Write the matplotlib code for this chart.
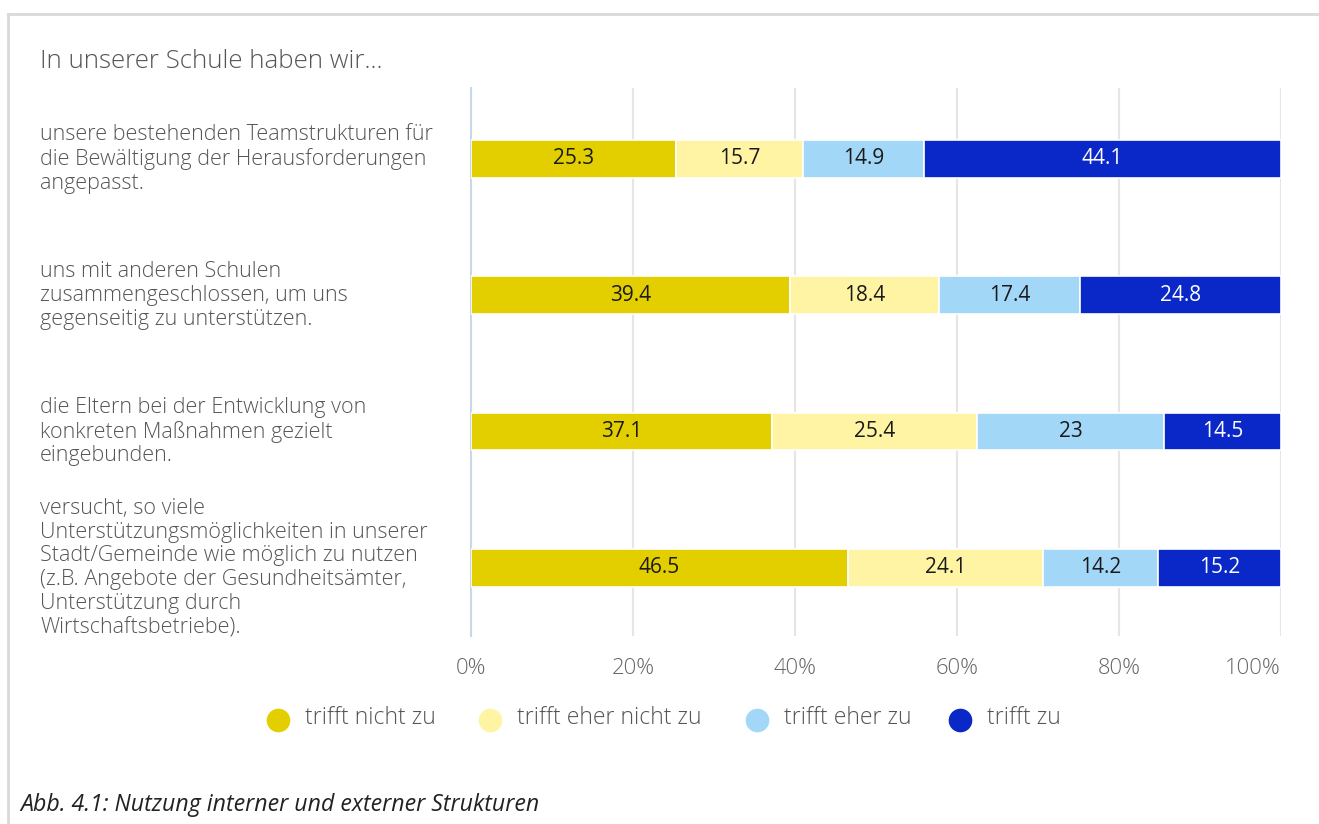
import matplotlib
matplotlib.use("Agg")
import matplotlib.pyplot as plt
from matplotlib.lines import Line2D
import matplotlib.transforms as mtransforms

plt.rcParams['font.family'] = ['Open Sans', 'DejaVu Sans']

categories = [
    "unsere bestehenden Teamstrukturen für\ndie Bewältigung der Herausforderungen\nangepasst.",
    "uns mit anderen Schulen\nzusammengeschlossen, um uns\ngegenseitig zu unterstützen.",
    "die Eltern bei der Entwicklung von\nkonkreten Maßnahmen gezielt\neingebunden.",
    "versucht, so viele\nUnterstützungsmöglichkeiten in unserer\nStadt/Gemeinde wie möglich zu nutzen\n(z.B. Angebote der Gesundheitsämter,\nUnterstützung durch\nWirtschaftsbetriebe).",
]
series_names = ["trifft nicht zu", "trifft eher nicht zu", "trifft eher zu", "trifft zu"]
trifft_nicht_zu = [25.3, 39.4, 37.1, 46.5]
trifft_eher_nicht_zu = [15.7, 18.4, 25.4, 24.1]
trifft_eher_zu = [14.9, 17.4, 23, 14.2]
trifft_zu = [44.1, 24.8, 14.5, 15.2]
value_labels = [
    ["25.3", "39.4", "37.1", "46.5"],
    ["15.7", "18.4", "25.4", "24.1"],
    ["14.9", "17.4", "23", "14.2"],
    ["44.1", "24.8", "14.5", "15.2"],
]
xticks = [0, 20, 40, 60, 80, 100]
xtick_labels = ["0%", "20%", "40%", "60%", "80%", "100%"]
title = "In unserer Schule haben wir..."
caption = "Abb. 4.1: Nutzung interner und externer Strukturen"

colors = ["#e3cf00", "#fff4a3", "#a3d7f7", "#0a28c8"]
text_colors = ["#1a1a1a", "#1a1a1a", "#1a1a1a", "#ffffff"]
LW = "light"

W, H = 1319, 824
fig = plt.figure(figsize=(W / 100, H / 100), dpi=100)
fig.patch.set_facecolor("white")

ax = fig.add_axes([471 / W, 1 - 636 / H, 810 / W, (636 - 88) / H])

series = [trifft_nicht_zu, trifft_eher_nicht_zu, trifft_eher_zu, trifft_zu]
totals = [sum(s[i] for s in series) for i in range(len(categories))]
ypos = list(range(len(categories)))
lefts = [0.0] * len(categories)
for k, s in enumerate(series):
    widths = [s[i] / totals[i] * 100 for i in range(len(categories))]
    bars = ax.barh(ypos, widths, left=lefts, height=0.275, color=colors[k],
                   edgecolor="white", linewidth=1.2, zorder=3)
    for i, b in enumerate(bars):
        ax.text(lefts[i] + widths[i] / 2, ypos[i], value_labels[k][i],
                ha="center", va="center", fontsize=15, color=text_colors[k], zorder=4)
    lefts = [lefts[i] + widths[i] for i in range(len(categories))]

ax.set_xlim(0, 100)
ax.set_ylim(3.5, -0.52)
ax.set_xticks(xticks)
ax.set_xticklabels(xtick_labels, fontsize=15.8, color="#666666", fontweight=LW)
ax.get_xticklabels()[-1].set_horizontalalignment("right")
ax.tick_params(axis="x", length=0, pad=16)
ax.set_yticks([])
ax.grid(axis="x", color="#e6e6e6", linewidth=1.5, zorder=0)
for sp in ["top", "right", "bottom"]:
    ax.spines[sp].set_visible(False)
ax.spines["left"].set_color("#ccd6eb")
ax.spines["left"].set_linewidth(1.5)

trans = mtransforms.blended_transform_factory(fig.transFigure, ax.transData)
for i, c in enumerate(categories):
    fig.text(40 / W, ypos[i], c, transform=trans, ha="left", va="center",
             fontsize=15.5, color="#555555", linespacing=1.18, fontweight=LW)

fig.text(40 / W, 1 - 61 / H, title, ha="left", va="center", fontsize=18.6,
         color="#555555", fontweight=LW)

# legend
leg_x = [278, 490, 757, 960]
for k in range(4):
    fig.add_artist(Line2D([leg_x[k] / W], [1 - 720 / H], marker="o", linestyle="none",
                          markersize=16, markerfacecolor=colors[k],
                          markeredgecolor=colors[k], transform=fig.transFigure))
    fig.text((leg_x[k] + 27) / W, 1 - 718 / H, series_names[k], ha="left", va="center",
             fontsize=16.6, color="#555555", fontweight=LW)

fig.text(20 / W, 1 - 805 / H, caption, ha="left", va="center", fontsize=16.7,
         style="italic", color="#222222")

fig.add_artist(Line2D([8 / W, 1], [1 - 14 / H, 1 - 14 / H], color="#d9d9d9", linewidth=2,
                      transform=fig.transFigure))
fig.add_artist(Line2D([8 / W, 8 / W], [0, 1 - 14 / H], color="#d9d9d9", linewidth=2,
                      transform=fig.transFigure))

fig.savefig("out.png", dpi=100)
